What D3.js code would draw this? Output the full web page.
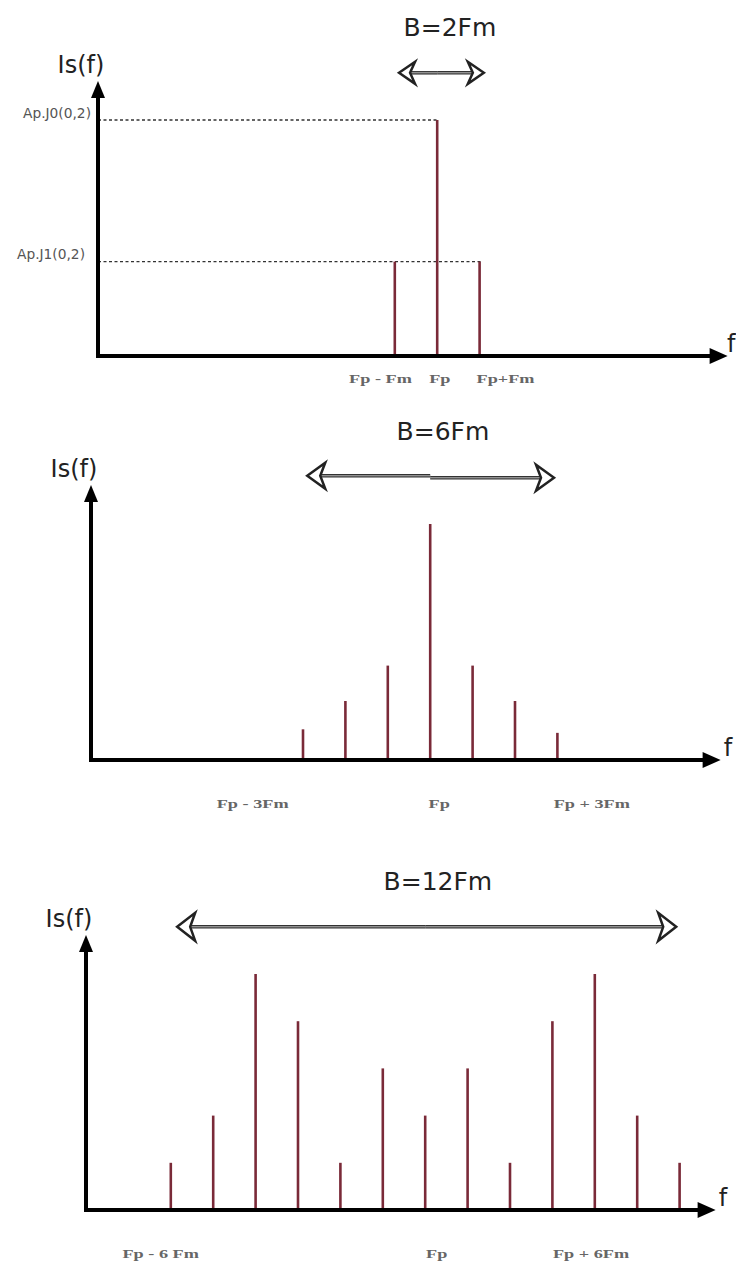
<!DOCTYPE html>
<html>
<head>
<meta charset="utf-8">
<script src="https://cdn.jsdelivr.net/npm/d3@7/dist/d3.min.js"></script>
<style>
  html, body { margin: 0; padding: 0; background: #fff; }
  svg { display: block; }
</style>
</head>
<body>
<svg id="chart" width="736" height="1268"></svg>
<script>
// ---------- data (offsets in multiples of Fm around Fp, amplitudes relative) ----------
const p1Title = "B=2Fm";
const p1Offsets = [-1, 0, 1];
const p1Amplitudes = [0.40, 1.00, 0.40];
const p1TickPositions = [-1.35, 0.05, 1.6];
const p1TickLabels = ["Fp - Fm", "Fp", "Fp+Fm"];
const p1RefLevels = [1.00, 0.40];
const p1RefLabels = ["Ap.J0(0,2)", "Ap.J1(0,2)"];
const p1RefEnds = [0, 1];
const p1Band = [-0.9, 1.1];

const p2Title = "B=6Fm";
const p2Offsets = [-3, -2, -1, 0, 1, 2, 3];
const p2Amplitudes = [0.13, 0.25, 0.40, 1.00, 0.40, 0.25, 0.115];
const p2TickPositions = [-4.2, 0.2, 3.8];
const p2TickLabels = ["Fp - 3Fm", "Fp", "Fp + 3Fm"];
const p2Band = [-2.9, 2.92];

const p3Title = "B=12Fm";
const p3Offsets = [-6, -5, -4, -3, -2, -1, 0, 1, 2, 3, 4, 5, 6];
const p3Amplitudes = [0.2, 0.4, 1.0, 0.8, 0.2, 0.6, 0.4, 0.6, 0.2, 0.8, 1.0, 0.4, 0.2];
const p3TickPositions = [-6.25, 0.26, 3.9];
const p3TickLabels = ["Fp - 6 Fm", "Fp", "Fp + 6Fm"];
const p3Band = [-5.85, 5.92];

const yLabel = "Is(f)";
const xLabel = "f";

// ---------- layout ----------
const panels = [
  { title: p1Title, offsets: p1Offsets, amps: p1Amplitudes, tickPos: p1TickPositions, tickLab: p1TickLabels,
    band: p1Band, refLevels: p1RefLevels, refLabels: p1RefLabels, refEnds: p1RefEnds,
    originX: 98, axisY: 356, tickPad: 17, bandStep: 0, headL: 16, headH: 22, fx: 727 },
  { title: p2Title, offsets: p2Offsets, amps: p2Amplitudes, tickPos: p2TickPositions, tickLab: p2TickLabels,
    band: p2Band, originX: 91, axisY: 760, tickPad: 38, bandStep: 2, headL: 18, headH: 26 },
  { title: p3Title, offsets: p3Offsets, amps: p3Amplitudes, tickPos: p3TickPositions, tickLab: p3TickLabels,
    band: p3Band, originX: 86, axisY: 1210, tickPad: 38, bandStep: 0, headL: 18, headH: 28 }
];

const svg = d3.select("#chart");
const SPACING = 42.4;
const UNIT = 236;
const spikeColor = "#7a2a38";

panels.forEach(p => {
  const x = d3.scaleLinear().domain([-8, 7]).range([p.originX, p.originX + 15 * SPACING]);
  const y = d3.scaleLinear().domain([0, 1]).range([p.axisY, p.axisY - UNIT]);
  const g = svg.append("g");

  // reference dashed lines (panel 1)
  if (p.refLevels) {
    g.selectAll("line.ref").data(p.refLevels).join("line")
      .attr("class", "ref")
      .attr("x1", x(-8)).attr("x2", (d, i) => x(p.refEnds[i]) + 1)
      .attr("y1", d => y(d)).attr("y2", d => y(d))
      .attr("stroke", "#333").attr("stroke-width", 1.4).attr("stroke-dasharray", "3,2.5");
    const yAxis = d3.axisLeft(y).tickValues(p.refLevels)
      .tickFormat((d, i) => p.refLabels[i]).tickSize(0).tickPadding(7);
    const ya = g.append("g").attr("transform", `translate(${x(-8)},0)`).call(yAxis);
    ya.select(".domain").remove();
    ya.selectAll("text").attr("font-family", "DejaVu Sans, sans-serif")
      .attr("font-size", 13.5).attr("fill", "#555").attr("dy", "-0.2em")
      .each(function (d, i) {
        const w = this.getComputedTextLength();
        d3.select(this).attr("textLength", w * 1.02).attr("lengthAdjust", "spacingAndGlyphs");
        if (i === 1) d3.select(this).attr("x", -13);
      });
  }

  // spikes
  g.selectAll("line.spike").data(p.offsets).join("line")
    .attr("class", "spike")
    .attr("x1", d => x(d)).attr("x2", d => x(d))
    .attr("y1", y(0)).attr("y2", (d, i) => y(p.amps[i]))
    .attr("stroke", spikeColor).attr("stroke-width", 2.6);

  // axes lines
  const tipX = x(6.85);
  const tipY = y(1.165);
  g.append("line").attr("x1", x(-8)).attr("x2", tipX - 14).attr("y1", y(0)).attr("y2", y(0))
    .attr("stroke", "#000").attr("stroke-width", 4);
  g.append("path").attr("d", `M${tipX},${y(0)} L${tipX - 18},${y(0) - 8} L${tipX - 18},${y(0) + 8} Z`).attr("fill", "#000");
  g.append("line").attr("x1", x(-8)).attr("x2", x(-8)).attr("y1", y(0) + 2).attr("y2", tipY + 14)
    .attr("stroke", "#000").attr("stroke-width", 4);
  g.append("path").attr("d", `M${x(-8)},${tipY} L${x(-8) - 7},${tipY + 17} L${x(-8) + 7},${tipY + 17} Z`).attr("fill", "#000");

  // axis labels
  g.append("text").text(yLabel).attr("x", x(-8) - 17).attr("y", tipY - 8)
    .attr("text-anchor", "middle").attr("font-family", "DejaVu Sans, sans-serif")
    .attr("font-size", 24).attr("fill", "#222");
  g.append("text").text(xLabel).attr("x", p.fx || tipX + 3).attr("y", y(0) - 4)
    .attr("font-family", "DejaVu Sans, sans-serif").attr("font-size", 24).attr("fill", "#222");

  // bottom tick labels
  const xAxis = d3.axisBottom(x).tickValues(p.tickPos)
    .tickFormat((d, i) => p.tickLab[i]).tickSize(0).tickPadding(p.tickPad);
  const xa = g.append("g").attr("transform", `translate(0,${y(0)})`).call(xAxis);
  xa.select(".domain").remove();
  xa.selectAll("text").attr("font-family", "Liberation Serif, DejaVu Serif, serif")
    .attr("font-size", 13.5).attr("font-weight", "bold").attr("fill", "#666")
    .each(function () {
      const w = this.getComputedTextLength();
      d3.select(this).attr("textLength", w * 1.35).attr("lengthAdjust", "spacingAndGlyphs");
    });

  // bandwidth title
  g.append("text").text(p.title).attr("x", x(0.3)).attr("y", y(1.355))
    .attr("text-anchor", "middle").attr("font-family", "DejaVu Sans, sans-serif")
    .attr("font-size", 25).attr("fill", "#222");

  // double arrow
  const ay = y(1.2);
  const xl = x(p.band[0]), xr = x(p.band[1]);
  const xm = x(0);
  const L = p.headL, H = p.headH;
  const shaft = g.append("g");
  const segs = [[xl + L - 4, ay - p.bandStep / 2, xm, ay - p.bandStep / 2], [xm, ay + p.bandStep / 2, xr - L + 4, ay + p.bandStep / 2]];
  segs.forEach(s => {
    shaft.append("line").attr("x1", s[0]).attr("x2", s[2]).attr("y1", s[1]).attr("y2", s[3])
      .attr("stroke", "#333").attr("stroke-width", 3.5);
    shaft.append("line").attr("x1", s[0]).attr("x2", s[2]).attr("y1", s[1]).attr("y2", s[3])
      .attr("stroke", "#bbb").attr("stroke-width", 1);
  });
  const yl = ay - p.bandStep / 2, yr = ay + p.bandStep / 2;
  g.append("path")
    .attr("d", `M${xl},${yl} L${xl + L},${yl - H / 2} L${xl + L - 5},${yl} L${xl + L},${yl + H / 2} Z`)
    .attr("fill", "#fff").attr("stroke", "#222").attr("stroke-width", 2.5).attr("stroke-linejoin", "miter");
  g.append("path")
    .attr("d", `M${xr},${yr} L${xr - L},${yr - H / 2} L${xr - L + 5},${yr} L${xr - L},${yr + H / 2} Z`)
    .attr("fill", "#fff").attr("stroke", "#222").attr("stroke-width", 2.5).attr("stroke-linejoin", "miter");
});
</script>
</body>
</html>
